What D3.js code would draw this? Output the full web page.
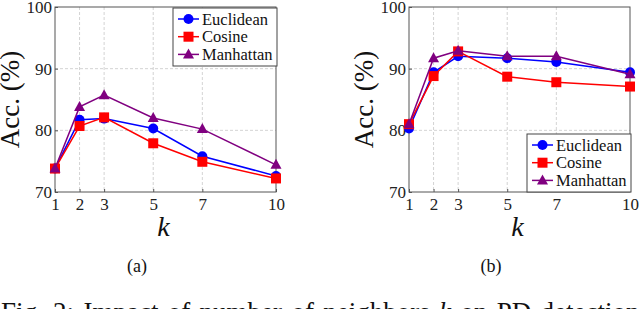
<!DOCTYPE html>
<html>
<head>
<meta charset="utf-8">
<script src="https://cdn.jsdelivr.net/npm/d3@7"></script>
<style>
  body { margin: 0; background: #fff; }
</style>
</head>
<body>
<svg id="chart" width="640" height="309"></svg>
<script>
// data
var kValues = [1, 2, 3, 5, 7, 10];
var yTicks = [70, 80, 90, 100];
var seriesNames = ["Euclidean", "Cosine", "Manhattan"];
var seriesColors = ["#0000ff", "#ff0000", "#800080"];
var seriesShapes = ["circle", "square", "triangle"];

// panel (a)
var euclideanA = [73.8, 81.7, 81.9, 80.3, 75.8, 72.6];
var cosineA = [73.8, 80.7, 82.1, 77.9, 74.9, 72.2];
var manhattanA = [73.8, 83.8, 85.7, 82.0, 80.2, 74.4];
// panel (b)
var euclideanB = [80.3, 89.4, 92.0, 91.7, 91.1, 89.4];
var cosineB = [81.0, 88.8, 92.8, 88.7, 87.8, 87.1];
var manhattanB = [81.0, 91.7, 92.9, 92.0, 92.0, 89.1];

var FONT = "'Liberation Serif', 'DejaVu Serif', serif";
var svg = d3.select("#chart").style("font-family", FONT);

//draw one panel
function draw_panel(left, right, series, legendPos, label, labelX, subX) {
	var top = 7, bottom = 192;
	var x = d3.scaleLinear().domain([1, 10]).range([left, right]);
	var y = d3.scaleLinear().domain([70, 100]).range([bottom, top]);
	var g = svg.append("g");

	//grid
	g.selectAll(".gx").data(kValues.slice(1, -1)).enter().append("line")
		.attr("x1", function (d) { return x(d); }).attr("x2", function (d) { return x(d); })
		.attr("y1", top).attr("y2", bottom)
		.style("stroke", "#c8c8c8").style("stroke-dasharray", "3,2").style("stroke-width", 0.8);
	g.selectAll(".gy").data(yTicks.slice(1, -1)).enter().append("line")
		.attr("x1", left).attr("x2", right)
		.attr("y1", function (d) { return y(d); }).attr("y2", function (d) { return y(d); })
		.style("stroke", "#c8c8c8").style("stroke-dasharray", "3,2").style("stroke-width", 0.8);

	//axes
	var xAxis = d3.axisBottom(x).tickValues(kValues).tickSize(-3).tickPadding(6);
	var yAxis = d3.axisLeft(y).tickValues(yTicks).tickSize(-3).tickPadding(3);
	var ga = g.append("g").attr("transform", "translate(0," + bottom + ")").call(xAxis);
	var gb = g.append("g").attr("transform", "translate(" + left + ",0)").call(yAxis);
	[ga, gb].forEach(function (a) {
		a.attr("font-family", null).attr("font-size", null);
		a.select(".domain").remove();
		a.selectAll("line").style("stroke", "#555");
		a.selectAll("text").style("font-size", "17px").style("fill", "#222");
	});

	// frame
	g.append("rect").attr("x", left).attr("y", top)
		.attr("width", right - left).attr("height", bottom - top)
		.style("fill", "none").style("stroke", "#555").style("stroke-width", 1);

	//lines and markers
	series.forEach(function (vals, si) {
		var line = d3.line()
			.x(function (d, i) { return x(kValues[i]); })
			.y(function (d) { return y(d); });
		g.append("path").datum(vals).attr("d", line)
			.style("fill", "none").style("stroke", seriesColors[si]).style("stroke-width", 1.5);
		vals.forEach(function (v, i) {
			draw_marker(g, seriesShapes[si], x(kValues[i]), y(v), seriesColors[si]);
		});
	});

	//legend
	var lw = 104, lh = 58;
	var lx = right - lw + 1, ly = legendPos == "top" ? 8 : bottom - lh;
	var lg = g.append("g").attr("transform", "translate(" + lx + "," + ly + ")");
	lg.append("rect").attr("width", lw).attr("height", lh)
		.style("fill", "#fff").style("stroke", "#444").style("stroke-width", 1);
	seriesNames.forEach(function (name, i) {
		var cy = 11 + i * 17.7;
		lg.append("line").attr("x1", 5).attr("x2", 26).attr("y1", cy).attr("y2", cy)
			.style("stroke", seriesColors[i]).style("stroke-width", 1.5);
		draw_marker(lg, seriesShapes[i], 15.5, cy, seriesColors[i]);
		lg.append("text").attr("x", 29).attr("y", cy + 5.5).text(name)
			.style("font-size", "16.5px").style("fill", "#111");
	});

	// axis titles
	svg.append("text").attr("transform", "translate(" + (labelX) + "," + ((top + bottom) / 2) + ") rotate(-90)")
		.attr("text-anchor", "middle").style("font-size", "27px").style("fill", "#111")
		.text("Acc. (%)");
	svg.append("text").attr("x", (left + right) / 2 - 2).attr("y", 236)
		.attr("text-anchor", "middle").style("font-size", "28px").style("font-style", "italic")
		.style("fill", "#111").text("k");
	svg.append("text").attr("x", subX).attr("y", 272)
		.attr("text-anchor", "middle").style("font-size", "18px").style("fill", "#111")
		.text(label);
}

function draw_marker(g, shape, cx, cy, color) {
	if (shape == "circle") {
		g.append("circle").attr("cx", cx).attr("cy", cy).attr("r", 5).style("fill", color);
	} else if (shape == "square") {
		g.append("rect").attr("x", cx - 5).attr("y", cy - 5).attr("width", 10).attr("height", 10).style("fill", color);
	} else {
		g.append("path").attr("transform", "translate(" + cx + "," + cy + ")")
			.attr("d", "M0,-6L5.5,4L-5.5,4Z").style("fill", color);
	}
}

draw_panel(55, 276, [euclideanA, cosineA, manhattanA], "top", "(a)", 19, 137);
draw_panel(409, 630, [euclideanB, cosineB, manhattanB], "bottom", "(b)", 373, 491);

//caption, cut off at the bottom edge like the source
var cap = svg.append("text").attr("x", 1).attr("y", 321)
	.style("font-size", "27px").style("fill", "#111");
cap.append("tspan").text("Fig. 2: Impact of number of neighbors ");
cap.append("tspan").style("font-style", "italic").text("k");
cap.append("tspan").text(" on PD detection");
var cw = cap.node().getComputedTextLength();
cap.style("word-spacing", Math.max(0, (636 - cw) / 9) + "px");
</script>
</body>
</html>
